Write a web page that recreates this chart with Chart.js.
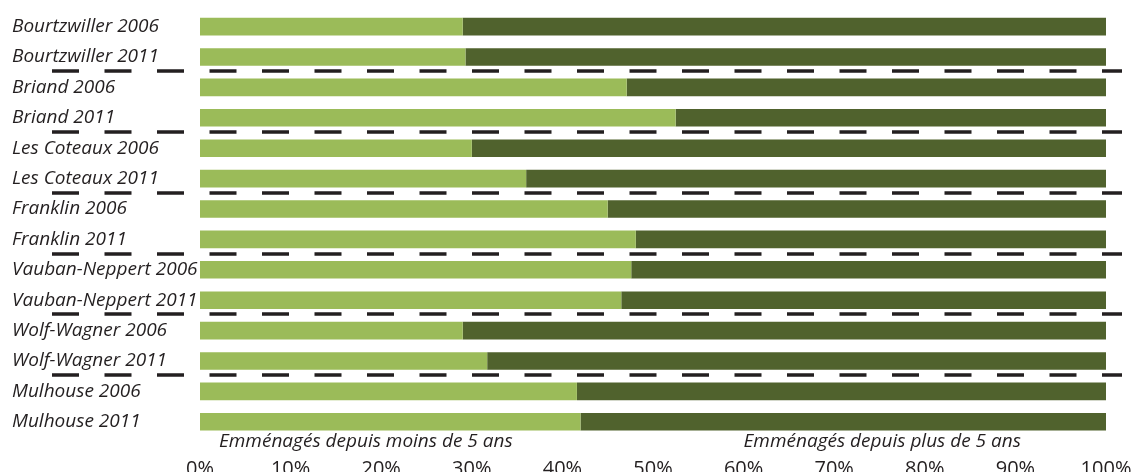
<!DOCTYPE html>
<html>
<head>
<meta charset="utf-8">
<script src="https://cdn.jsdelivr.net/npm/chart.js@4/dist/chart.umd.min.js"></script>
<style>
  html, body { margin: 0; padding: 0; background: #ffffff; }
  #wrap { width: 1134px; height: 472px; position: relative; }
</style>
</head>
<body>
<div id="wrap"><canvas id="chart"></canvas></div>
<script>
// Quartiers et années
const categories = [
  'Bourtzwiller 2006', 'Bourtzwiller 2011',
  'Briand 2006', 'Briand 2011',
  'Les Coteaux 2006', 'Les Coteaux 2011',
  'Franklin 2006', 'Franklin 2011',
  'Vauban-Neppert 2006', 'Vauban-Neppert 2011',
  'Wolf-Wagner 2006', 'Wolf-Wagner 2011',
  'Mulhouse 2006', 'Mulhouse 2011'
];

// Part des ménages (%) selon l'ancienneté d'emménagement
const moinsDe5Ans = [29.0, 29.3, 47.1, 52.5, 30.0, 36.0, 45.0, 48.1, 47.6, 46.5, 29.0, 31.7, 41.6, 42.0];
const plusDe5Ans = moinsDe5Ans.map(v => +(100 - v).toFixed(1));

const seriesLabels = ['Emménagés depuis moins de 5 ans', 'Emménagés depuis plus de 5 ans'];
const xTicks = [0, 10, 20, 30, 40, 50, 60, 70, 80, 90, 100];

const FONT = '"Open Sans", "DejaVu Sans", sans-serif';
const INK = '#231f20';

// Séparateurs en tirets entre chaque paire de barres + libellés des séries sous le graphique
const decorations = {
  id: 'decorations',
  afterDatasetsDraw(chart) {
    const { ctx, chartArea, scales } = chart;
    const y = scales.y, x = scales.x;
    ctx.save();
    ctx.strokeStyle = INK;
    ctx.lineWidth = 3.5;
    ctx.setLineDash([27, 25.5]);
    for (let i = 1; i < categories.length - 1; i += 2) {
      const yy = Math.round((y.getPixelForValue(i) + y.getPixelForValue(i + 1)) / 2) - 1;
      ctx.beginPath();
      ctx.moveTo(chartArea.left - 148, yy);
      ctx.lineTo(chartArea.right + 16, yy);
      ctx.stroke();
    }
    ctx.setLineDash([]);

    ctx.fillStyle = INK;
    ctx.font = 'italic 19px ' + FONT;
    ctx.textBaseline = 'middle';
    ctx.textAlign = 'center';
    const ly = chartArea.bottom + 5;
    ctx.fillText(seriesLabels[0], x.getPixelForValue(18.3), ly);
    ctx.fillText(seriesLabels[1], x.getPixelForValue(75.3), ly);
    ctx.restore();
  }
};

new Chart(document.getElementById('chart'), {
  type: 'bar',
  data: {
    labels: categories,
    datasets: [
      { label: seriesLabels[0], data: moinsDe5Ans, backgroundColor: '#9bbb59' },
      { label: seriesLabels[1], data: plusDe5Ans, backgroundColor: '#50622d' }
    ]
  },
  options: {
    indexAxis: 'y',
    responsive: true,
    maintainAspectRatio: false,
    animation: false,
    layout: { padding: { left: 12, right: 28, top: 10, bottom: 0 } },
    datasets: { bar: { categoryPercentage: 0.58, barPercentage: 1.0 } },
    plugins: {
      legend: { display: false },
      tooltip: { enabled: false }
    },
    scales: {
      x: {
        stacked: true,
        min: 0, max: 100,
        afterBuildTicks(scale) { scale.ticks = xTicks.map(v => ({ value: v })); },
        afterFit(scale) {
          scale.height = 35;
          scale.paddingLeft = 0;
          scale.paddingRight = 0;
        },
        grid: { display: false, drawTicks: false },
        border: { display: false },
        ticks: {
          padding: 20,
          color: INK,
          maxRotation: 0,
          font: { family: FONT, size: 20 },
          callback: v => v + '%'
        }
      },
      y: {
        stacked: true,
        afterFit(scale) { scale.width = 188; },
        grid: { display: false, drawTicks: false },
        border: { display: false },
        ticks: {
          crossAlign: 'far',
          padding: 0,
          color: INK,
          autoSkip: false,
          font: { family: FONT, size: 19, style: 'italic' }
        }
      }
    }
  },
  plugins: [decorations]
});
</script>
</body>
</html>
